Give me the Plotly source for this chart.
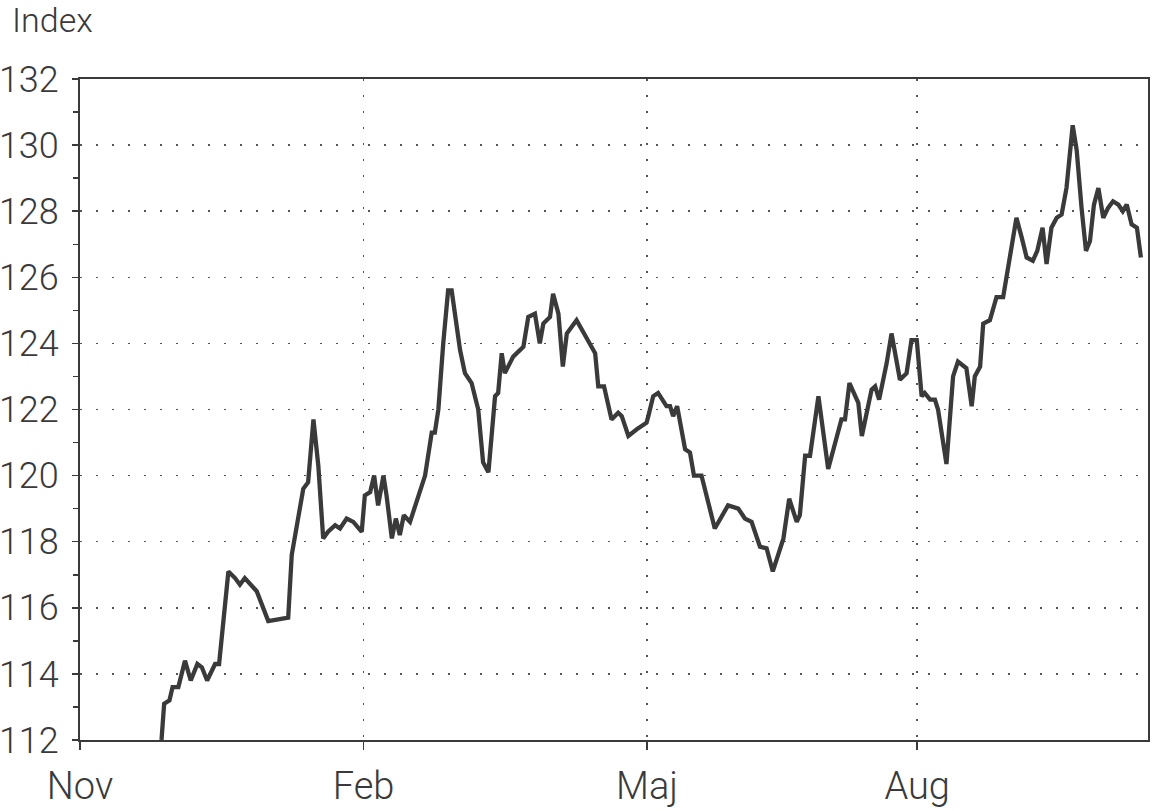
import plotly.graph_objects as go

# Trading-day index (Nov = 0) and index values
days = [18.4, 19.0, 20.2, 20.9, 22.2, 23.7, 25.0, 26.5, 27.5, 28.7, 30.5, 31.4,
        33.5, 35.0, 36.1, 37.2, 39.9, 42.5, 47.0, 47.8, 50.4, 51.5, 52.7, 53.8,
        54.9, 56.0, 57.6, 58.7, 60.2, 61.7, 63.6, 64.3, 65.5, 66.4, 67.3, 68.5,
        69.2, 70.4, 71.3, 72.2, 73.1, 74.5, 77.9, 79.4, 80.1, 80.9, 82.0, 83.1,
        83.9, 85.8, 86.9, 88.4, 89.9, 91.0, 92.2, 93.7, 94.4, 95.2, 95.9, 97.8,
        100.1, 101.2, 102.7, 103.8, 104.6, 106.1, 106.8, 108.0, 109.0, 109.9, 112.1, 115.1,
        116.3, 117.0, 118.3, 120.0, 121.5, 122.3, 123.8, 125.7, 127.9, 128.3, 129.4, 130.5,
        132.4, 133.2, 133.9, 134.8, 136.6, 137.7, 138.6, 140.3, 143.3, 146.3, 148.6, 150.1,
        151.6, 153.5, 155.0, 156.4, 158.8, 160.1, 161.8, 162.5, 163.7, 164.8, 166.7, 168.9,
        170.4, 171.9, 172.7, 173.7, 175.7, 176.5, 178.7, 179.5, 180.4, 182.1, 183.2, 185.1,
        186.6, 187.7, 188.9, 190.0, 190.7, 191.9, 193.0, 193.7, 195.6, 197.1, 198.2, 200.1,
        201.3, 202.0, 203.2, 203.9, 205.4, 206.9, 208.4, 209.2, 211.4, 212.6, 213.7, 215.1,
        216.1, 217.3, 218.2, 219.3, 220.5, 221.6, 222.7, 224.1, 225.0, 226.1, 227.1, 228.0,
        228.9, 229.9, 231.0, 232.1, 233.2, 234.4, 235.4, 236.3, 237.4, 238.6, 239.5]
index_values = [112.0, 113.1, 113.2, 113.6, 113.6, 114.4, 113.8, 114.3, 114.2, 113.8, 114.3, 114.3,
                117.1, 116.9, 116.7, 116.9, 116.5, 115.6, 115.7, 117.6, 119.6, 119.8, 121.7, 120.3,
                118.1, 118.3, 118.5, 118.4, 118.7, 118.6, 118.3, 119.4, 119.5, 120.0, 119.1, 120.0,
                119.4, 118.1, 118.7, 118.2, 118.8, 118.6, 120.0, 121.3, 121.3, 122.0, 124.0, 125.6,
                125.6, 123.8, 123.1, 122.8, 122.0, 120.4, 120.1, 122.4, 122.5, 123.7, 123.1, 123.6,
                123.9, 124.8, 124.9, 124.0, 124.6, 124.8, 125.5, 124.9, 123.3, 124.3, 124.7, 124.0,
                123.7, 122.7, 122.7, 121.7, 121.9, 121.8, 121.2, 121.4, 121.6, 121.8, 122.4, 122.5,
                122.1, 122.1, 121.8, 122.1, 120.8, 120.7, 120.0, 120.0, 118.4, 119.1, 119.0, 118.7,
                118.6, 117.85, 117.8, 117.1, 118.1, 119.3, 118.6, 118.8, 120.6, 120.6, 122.4, 120.2,
                120.9, 121.7, 121.7, 122.8, 122.2, 121.2, 122.6, 122.7, 122.3, 123.4, 124.3, 122.9,
                123.1, 124.1, 124.1, 122.4, 122.5, 122.3, 122.3, 122.0, 120.35, 123.0, 123.45, 123.25,
                122.1, 123.0, 123.3, 124.6, 124.7, 125.4, 125.4, 126.0, 127.8, 127.2, 126.6, 126.5,
                126.8, 127.5, 126.4, 127.5, 127.8, 127.9, 128.7, 130.6, 129.85, 128.1, 126.8, 127.1,
                128.2, 128.7, 127.8, 128.1, 128.3, 128.2, 128.0, 128.2, 127.6, 127.5, 126.6]

month_ticks = [0, 64, 128, 189]
month_labels = ["Nov", "Feb", "Maj", "Aug"]
y_ticks = [112, 114, 116, 118, 120, 122, 124, 126, 128, 130, 132]
x_range = [0, 241.1]
y_range = [112, 132]

ink = "#3a3a3a"
font_family = "Roboto, 'DejaVu Sans', sans-serif"

fig = go.Figure()
fig.add_trace(go.Scatter(
    x=days, y=index_values, mode="lines",
    line=dict(color=ink, width=4.3),
    showlegend=False, hoverinfo="skip",
))

fig.update_layout(
    width=1155, height=811,
    margin=dict(l=80, r=7, t=79, b=71),
    paper_bgcolor="white", plot_bgcolor="white",
    font=dict(family=font_family, color=ink, size=37, weight=300),
    xaxis=dict(
        range=x_range, tickvals=month_ticks, ticktext=month_labels,
        showline=True, linecolor=ink, linewidth=2, mirror=True,
        ticks="outside", ticklen=8, tickwidth=1.5, tickcolor=ink,
        showgrid=True, gridcolor="#555555", gridwidth=1.5, griddash="2px,14px",
        zeroline=False, ticklabelstandoff=3, automargin=False,
        tickfont=dict(size=38, family=font_family, color=ink, weight=300),
    ),
    yaxis=dict(
        range=y_range, tickvals=y_ticks,
        showline=True, linecolor=ink, linewidth=2, mirror=True,
        ticks="outside", ticklen=6, tickwidth=1.5, tickcolor=ink,
        minor=dict(dtick=1, tick0=113, ticks="outside", ticklen=5, tickwidth=1.5,
                   tickcolor=ink, showgrid=False),
        showgrid=True, gridcolor="#555555", gridwidth=1.5, griddash="2px,14px",
        zeroline=False, ticklabelstandoff=6, automargin=False,
        tickfont=dict(size=36, family=font_family, color=ink, weight=300),
    ),
    annotations=[dict(
        text="Index", xref="paper", yref="paper", x=-0.0655, y=1.089,
        xanchor="left", yanchor="middle", showarrow=False,
        font=dict(size=34, family=font_family, color=ink, weight=300),
    )],
)

fig.write_html(
    "out.html",
    config={"displayModeBar": False, "staticPlot": True},
    post_script="document.body.style.margin='0';document.body.style.overflow='hidden';",
)
